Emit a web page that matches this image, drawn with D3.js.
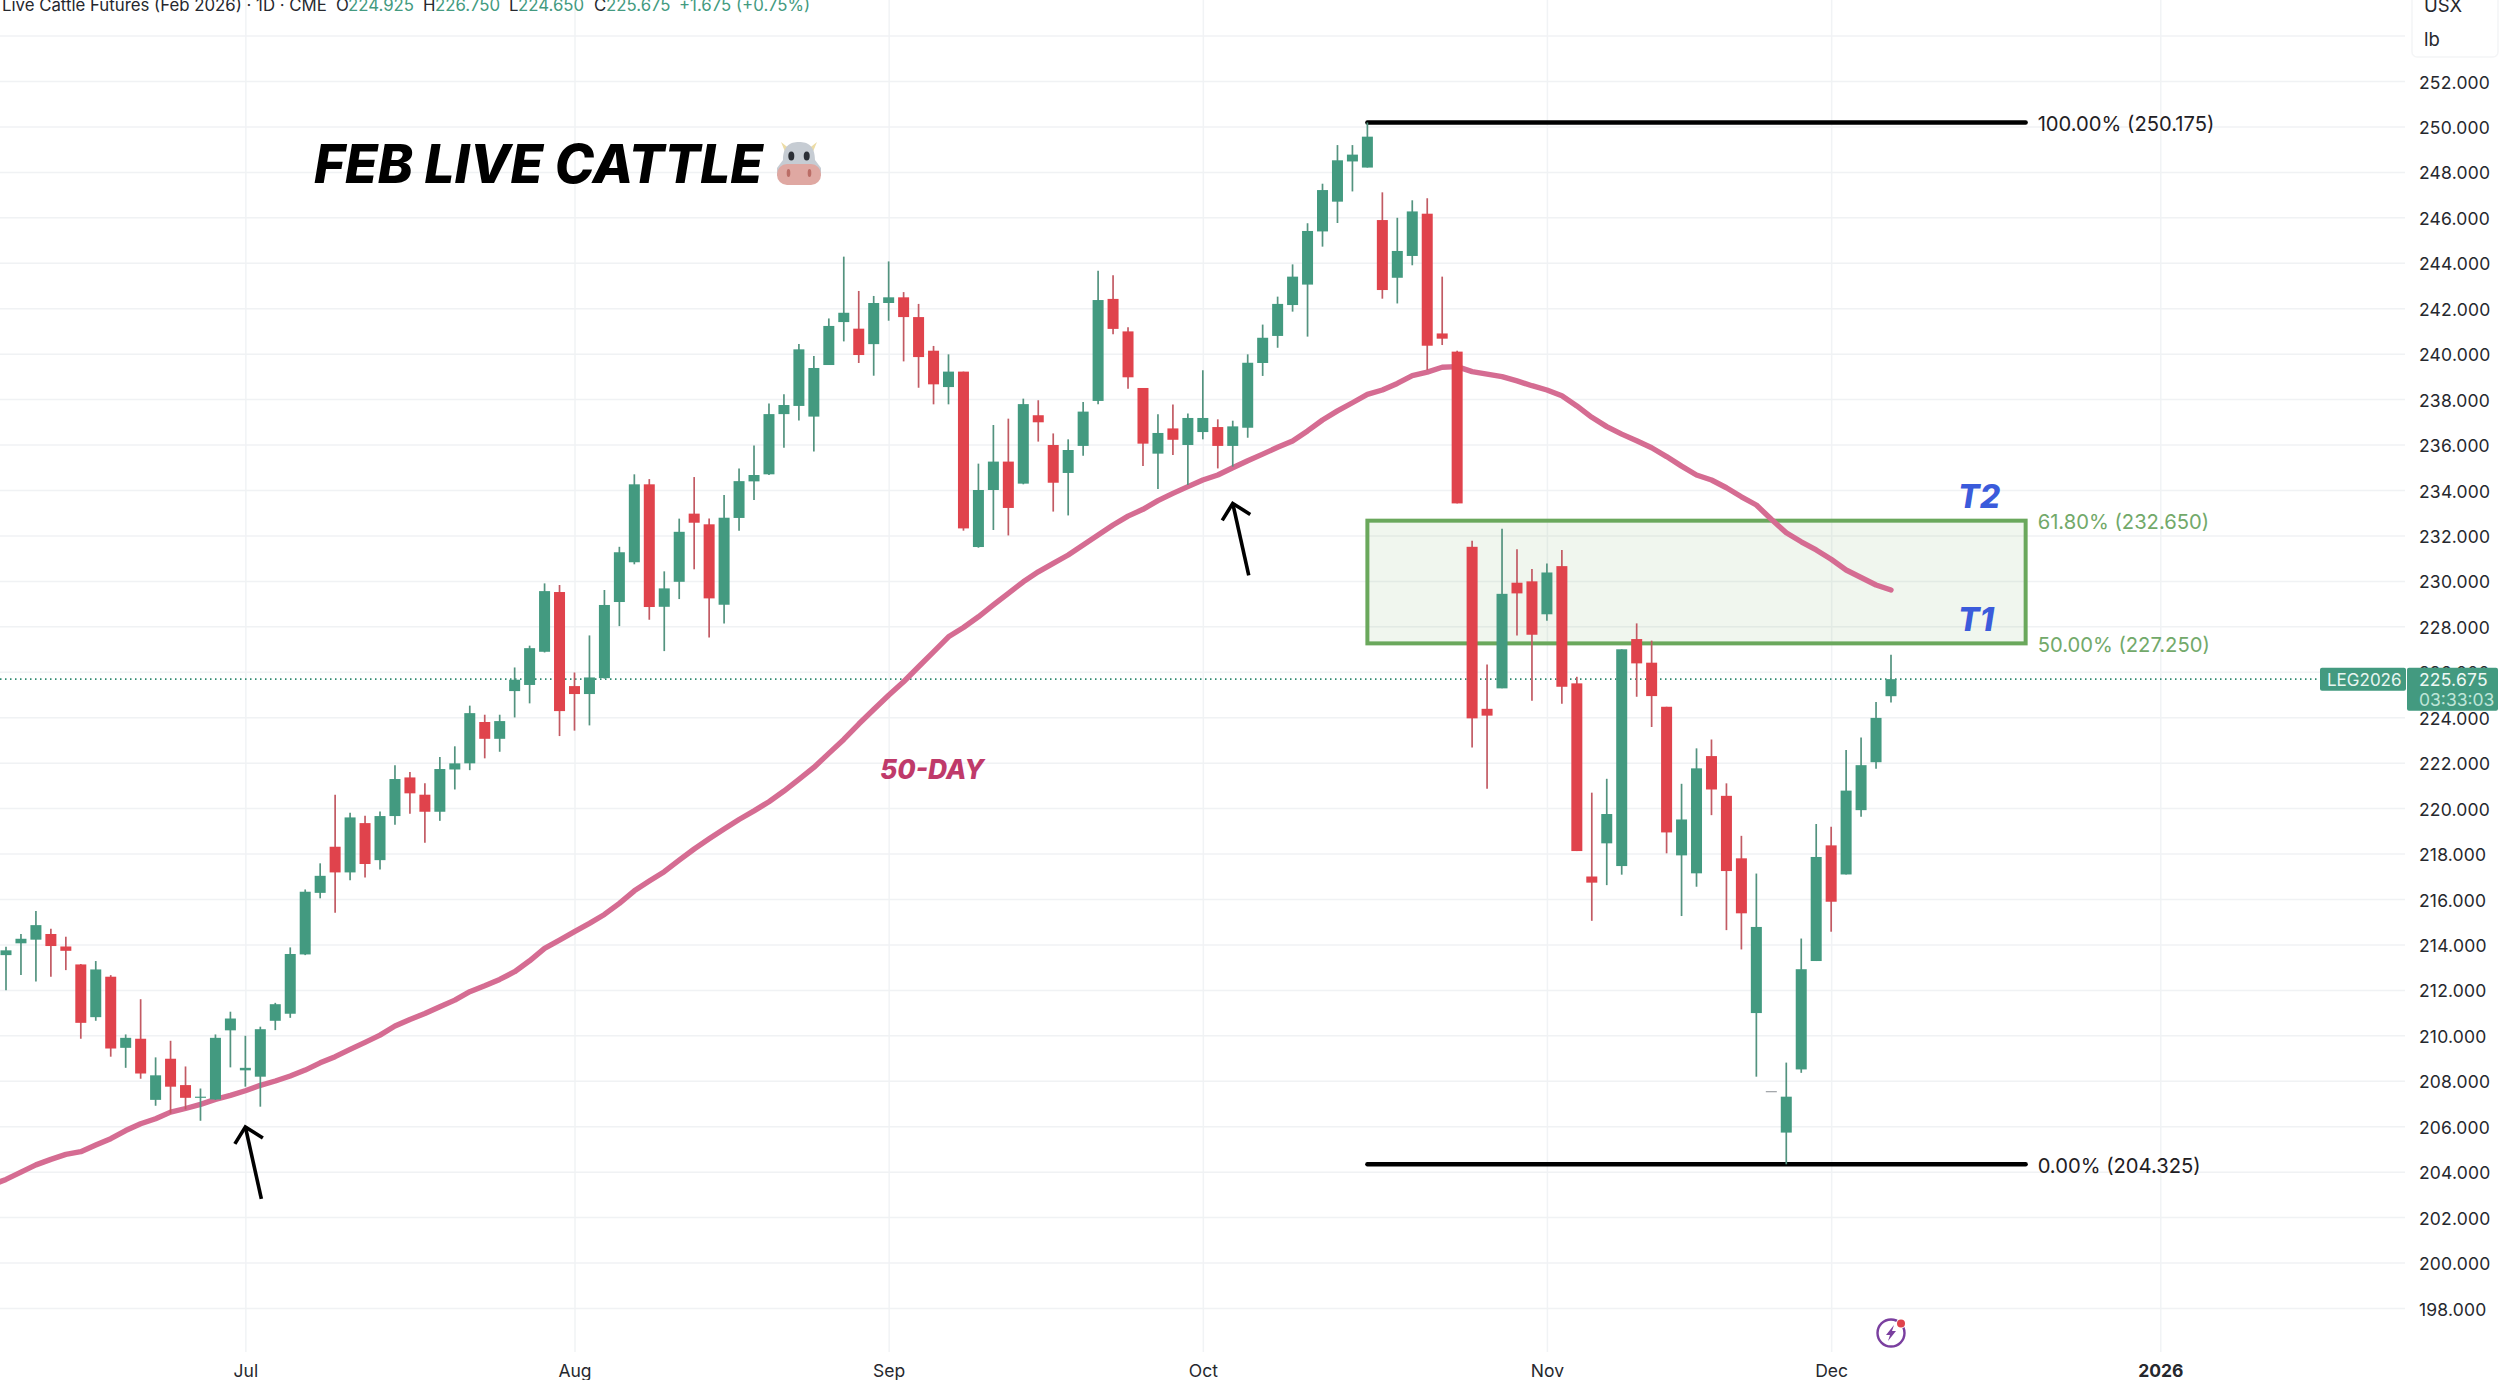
<!DOCTYPE html>
<html>
<head>
<meta charset="utf-8">
<title>Feb Live Cattle</title>
<script src="https://cdn.jsdelivr.net/npm/d3@7/dist/d3.min.js"></script>
<style>
	html, body { margin: 0; padding: 0; background: #fff; }
	svg { display: block; font-family: Inter, "Noto Sans", sans-serif; }
</style>
</head>
<body>
<svg id="chart" width="2500" height="1380"></svg>
<script>
// daily bars, oldest first
const opens = [213.53,214.05,214.21,214.46,213.91,213.12,210.80,212.58,209.45,209.85,
	207.16,208.97,207.81,207.25,207.18,210.22,208.46,208.18,210.64,210.95,
	213.56,216.27,218.30,217.17,219.34,217.71,219.65,221.35,220.59,219.84,
	221.70,221.97,223.79,223.05,225.15,225.42,226.88,229.51,225.37,225.02,
	225.72,229.07,230.82,234.25,228.86,229.96,232.96,232.49,228.95,232.77,
	234.38,234.69,237.34,237.70,237.23,239.50,241.39,241.10,240.42,242.23,
	242.48,241.61,240.13,238.53,239.21,231.49,234.00,235.25,234.28,237.29,
	235.98,234.75,235.94,237.92,242.41,240.98,238.49,235.60,236.71,235.98,
	236.55,236.77,235.94,236.74,239.59,240.78,242.14,243.04,245.38,246.69,
	248.46,248.19,245.88,243.34,244.30,246.16,240.89,240.09,231.50,224.37,
	225.27,229.92,229.98,228.53,230.65,225.49,216.99,218.45,217.45,227.44,
	226.40,224.46,217.92,217.13,222.29,220.54,217.79,210.98,207.54,205.72,
	208.50,213.27,218.36,217.08,219.91,222.02,224.925];
const highs = [213.90,214.46,215.47,214.69,214.34,213.14,213.27,212.65,210.04,211.59,
	209.03,209.76,208.63,207.66,210.04,211.04,209.98,210.38,211.43,213.87,
	216.42,217.57,220.59,219.80,219.66,219.85,221.89,221.59,221.09,222.25,
	222.72,224.51,224.11,224.11,226.19,227.15,229.89,229.82,225.97,227.60,
	229.60,231.50,234.69,234.48,230.42,232.74,234.57,232.75,233.78,234.95,
	235.96,237.81,238.21,240.42,239.90,241.55,244.27,242.76,242.54,244.06,
	242.71,242.19,240.34,239.97,239.21,235.16,236.86,237.14,238.02,237.95,
	236.49,236.23,237.87,243.65,243.45,241.16,238.49,237.33,237.76,237.37,
	239.27,237.11,237.05,239.97,241.28,242.51,243.93,245.74,247.48,249.18,
	249.18,250.175,247.10,245.98,246.75,246.84,243.39,240.13,231.77,226.32,
	232.30,231.39,230.52,230.77,231.36,225.78,220.68,221.29,226.99,228.13,
	227.37,224.46,221.07,222.63,223.02,221.09,218.78,217.12,207.54,208.80,
	214.26,219.30,219.18,222.56,223.11,224.67,226.75];
const lows = [211.98,212.65,212.37,212.58,212.87,209.85,210.64,209.06,208.57,208.09,
	206.90,206.56,206.74,206.24,207.16,208.59,207.74,206.86,210.23,210.77,
	213.53,216.03,215.39,216.83,216.95,217.30,219.27,219.75,218.48,219.44,
	220.82,221.67,222.19,222.48,223.99,224.61,226.85,223.17,223.41,223.64,
	225.70,228.01,230.73,228.29,226.91,229.20,230.51,227.51,228.13,232.21,
	233.56,234.66,235.86,237.06,235.69,239.50,240.54,239.59,239.03,241.45,
	239.66,238.50,237.77,237.77,232.21,231.46,232.24,232.00,234.25,236.13,
	233.05,232.88,235.51,237.77,240.85,238.46,235.06,234.04,235.54,234.22,
	236.23,234.95,235.03,236.30,239.02,240.26,241.85,240.75,244.71,245.75,
	247.14,248.19,242.42,242.21,243.89,239.28,240.38,233.41,222.67,220.85,
	225.27,227.60,224.73,228.25,224.59,218.11,215.04,216.61,217.07,224.90,
	223.57,218.01,215.25,216.54,219.69,214.63,213.78,208.18,207.54,204.325,
	208.35,213.27,214.56,217.08,219.62,221.73,224.65];
const closes = [213.74,214.25,214.85,213.93,213.72,210.55,212.90,209.42,209.89,208.32,
	208.24,207.74,207.25,207.30,209.89,210.74,208.57,210.27,211.37,213.58,
	216.32,217.02,217.17,219.59,217.54,219.65,221.28,220.65,219.84,221.72,
	221.97,224.18,223.05,223.83,225.65,227.04,229.55,224.27,225.02,225.75,
	228.94,231.26,234.25,228.85,229.67,232.16,232.56,229.23,232.78,234.39,
	234.66,237.34,237.74,240.19,239.37,241.22,241.80,239.94,242.23,242.48,
	241.61,239.85,238.65,239.21,232.31,234.00,235.25,233.21,237.78,236.98,
	234.32,235.76,237.45,242.36,241.09,238.96,236.04,236.51,236.21,237.17,
	237.17,235.94,236.80,239.60,240.70,242.19,243.39,245.40,247.20,248.51,
	248.76,249.55,242.80,244.52,246.26,240.35,240.66,233.41,223.95,224.07,
	229.43,229.45,227.63,230.37,225.34,218.11,216.72,219.74,226.99,226.37,
	224.93,218.93,219.50,221.75,220.82,217.23,215.37,214.77,207.54,207.30,
	212.91,217.85,215.88,220.77,221.89,223.97,225.675];

// 50 day average, first value belongs to the bar just off the left edge
const ma50 = [203.40,203.66,203.98,204.30,204.54,204.76,204.88,205.17,205.45,205.81,206.11,
	206.33,206.62,206.78,206.96,207.18,207.36,207.56,207.80,207.99,208.21,
	208.47,208.79,209.06,209.38,209.69,210.01,210.41,210.70,210.96,211.26,
	211.55,211.92,212.18,212.46,212.80,213.28,213.83,214.19,214.56,214.93,
	215.32,215.81,216.36,216.79,217.20,217.71,218.20,218.65,219.08,219.50,
	219.88,220.28,220.75,221.26,221.79,222.41,223.02,223.70,224.34,224.97,
	225.56,226.22,226.88,227.54,227.95,228.42,228.94,229.45,229.96,230.40,
	230.77,231.14,231.58,232.02,232.46,232.85,233.15,233.53,233.85,234.15,
	234.44,234.66,234.98,235.29,235.58,235.88,236.16,236.60,237.08,237.48,
	237.84,238.21,238.40,238.69,239.03,239.19,239.40,239.43,239.21,239.10,
	238.99,238.80,238.59,238.40,238.15,237.70,237.20,236.79,236.46,236.17,
	235.86,235.47,235.05,234.66,234.44,234.10,233.70,233.34,232.71,232.12,
	231.72,231.36,230.95,230.48,230.15,229.82,229.60];

const priceTicks = d3.range(198, 253, 2);
const gridPrices = d3.range(198, 255, 2);
const monthBars = [16, 38, 59, 80, 103, 122, 144];
const monthLabels = ["Jul", "Aug", "Sep", "Oct", "Nov", "Dec", "2026"];

// fib levels
const fibPct = ["100.00%", "61.80%", "50.00%", "0.00%"];
const fibPrice = [250.175, 232.650, 227.250, 204.325];
const fibFromBar = 91, fibToBar = 135;
const lastPrice = 225.675;

// bar numbers stand in for trading days
const x = d3.scaleLinear().domain([0, 126]).range([6, 1891]);
const y = d3.scaleLinear().domain([252, 198]).range([81, 1308]);

const svg = d3.select("#chart");
const GREEN = "#439a80", RED = "#e0434c";

// grid
svg.append("g").call(d3.axisBottom(x).tickValues(monthBars).tickSize(1352).tickFormat(""))
	.call(g => g.select(".domain").remove())
	.selectAll("line").attr("stroke", "#f1f3f5").attr("stroke-width", 1.5);
svg.append("g").call(d3.axisRight(y).tickValues(gridPrices).tickSize(2405).tickFormat(""))
	.call(g => g.select(".domain").remove())
	.selectAll("line").attr("stroke", "#f0f2f4").attr("stroke-width", 1.5);

// fib zone and levels
const fibLeft = x(fibFromBar), fibRight = x(fibToBar);
svg.append("rect")
	.attr("x", fibLeft).attr("y", y(fibPrice[1]))
	.attr("width", fibRight - fibLeft).attr("height", y(fibPrice[2]) - y(fibPrice[1]))
	.attr("fill", "#6aa85c").attr("fill-opacity", 0.1)
	.attr("stroke", "#6aa85c").attr("stroke-width", 4);
svg.selectAll(".fibLine").data([fibPrice[0], fibPrice[3]]).enter().append("line")
	.attr("class", "fibLine")
	.attr("x1", fibLeft).attr("x2", fibRight)
	.attr("y1", d => y(d)).attr("y2", d => y(d))
	.attr("stroke", "#000").attr("stroke-width", 4.4).attr("stroke-linecap", "round");
svg.selectAll(".fibLabel").data(fibPrice).enter().append("text")
	.attr("class", "fibLabel")
	.attr("x", fibRight + 12).attr("y", d => y(d) + 1.5)
	.attr("dy", "0.36em")
	.attr("font-size", 20.2)
	.attr("fill", (d, i) => (i == 1 || i == 2) ? "#72a96a" : "#1f2024")
	.text((d, i) => fibPct[i] + " (" + d.toFixed(3) + ")");

// last price line
svg.append("line")
	.attr("x1", 0).attr("x2", 2320).attr("y1", y(lastPrice)).attr("y2", y(lastPrice))
	.attr("stroke", "#2f8a70").attr("stroke-width", 1.6).attr("stroke-dasharray", "1.5 3.5");

// moving average
const maLine = d3.line().x((d, i) => x(i - 1)).y(d => y(d));
svg.append("path").datum(ma50)
	.attr("d", maLine).attr("fill", "none")
	.attr("stroke", "#d56c92").attr("stroke-width", 5.4)
	.attr("stroke-linecap", "round").attr("stroke-linejoin", "round");

// candles
const bars = svg.append("g").selectAll("g").data(opens).enter().append("g");
const barColor = (i) => opens[i] == closes[i] ? "#8a8f94" : (closes[i] > opens[i] ? GREEN : RED);
bars.append("line")
	.attr("x1", (d, i) => x(i)).attr("x2", (d, i) => x(i))
	.attr("y1", (d, i) => y(highs[i])).attr("y2", (d, i) => y(lows[i]))
	.attr("stroke", (d, i) => closes[i] >= opens[i] ? "#53937f" : "#c25a63")
	.attr("stroke-width", 1.7);
bars.append("rect")
	.attr("x", (d, i) => x(i) - 5.5).attr("width", 11)
	.attr("y", (d, i) => y(Math.max(opens[i], closes[i])))
	.attr("height", (d, i) => Math.max(1, Math.abs(y(opens[i]) - y(closes[i]))))
	.attr("fill", (d, i) => barColor(i));

// axes
const yAxis = svg.append("g").attr("transform", "translate(2419,1.5)")
	.call(d3.axisRight(y).tickValues(priceTicks).tickSize(0).tickPadding(0).tickFormat(d => d.toFixed(3)));
yAxis.select(".domain").remove();
yAxis.selectAll("text").attr("font-family", "Inter").attr("font-size", 17.5).attr("letter-spacing", 0.2).attr("fill", "#26282e");

const xAxis = svg.append("g").attr("transform", "translate(0,1352)")
	.call(d3.axisBottom(x).tickValues(monthBars).tickSize(0).tickPadding(13).tickFormat((d, i) => monthLabels[i]));
xAxis.select(".domain").remove();
xAxis.selectAll("text").attr("font-family", "Inter").attr("font-size", 17.5).attr("fill", "#26282e")
	.attr("font-weight", (d, i) => monthLabels[i] == "2026" ? 700 : 400);

// price badges
svg.append("rect").attr("x", 2320).attr("y", y(lastPrice) - 11.5).attr("width", 86).attr("height", 23).attr("rx", 2).attr("fill", GREEN);
svg.append("text").attr("x", 2327).attr("y", y(lastPrice) + 1).attr("dy", "0.36em")
	.attr("font-size", 17).attr("fill", "#e8f5f0").text("LEG2026");
svg.append("rect").attr("x", 2407).attr("y", y(lastPrice) - 11.5).attr("width", 91).attr("height", 43).attr("rx", 2).attr("fill", GREEN);
svg.append("text").attr("x", 2419).attr("y", y(lastPrice) + 1).attr("dy", "0.36em")
	.attr("font-size", 17.5).attr("letter-spacing", 0.2).attr("fill", "#eef8f4").text(lastPrice.toFixed(3));
svg.append("text").attr("x", 2419).attr("y", y(lastPrice) + 20.5).attr("dy", "0.36em")
	.attr("font-size", 17.5).attr("fill", "#bfe5d8").text("03:33:03");

// unit box, top right
svg.append("rect").attr("x", 2412).attr("y", -8).attr("width", 86).attr("height", 65).attr("rx", 5)
	.attr("fill", "#fff").attr("stroke", "#f4f5f6").attr("stroke-width", 1.5);
svg.append("text").attr("x", 2424).attr("y", 12).attr("font-size", 18.5).attr("fill", "#26282e").text("USX");
svg.append("text").attr("x", 2424).attr("y", 46).attr("font-size", 18.5).attr("fill", "#26282e").text("lb");

// header line, cut by the top edge
const headItems = [
	[2, "Live Cattle Futures (Feb 2026) · 1D · CME", "#26282e"],
	[336, "O", "#26282e"], [348, "224.925", GREEN],
	[423, "H", "#26282e"], [435, "226.750", GREEN],
	[509, "L", "#26282e"], [518, "224.650", GREEN],
	[594, "C", "#26282e"], [606, "225.675", GREEN],
	[679, "+1.675 (+0.75%)", GREEN]
];
svg.selectAll(".head").data(headItems).enter().append("text")
	.attr("class", "head")
	.attr("x", d => d[0]).attr("y", 11)
	.attr("font-size", 16.8).attr("fill", d => d[2])
	.text(d => d[1]);

// title
svg.append("text").attr("x", 314).attr("y", 183)
	.attr("font-size", 53).attr("font-weight", 800).attr("font-style", "italic")
	.attr("fill", "#000").text("FEB LIVE CATTLE");

// cow drawn by hand, no emoji font here
const cow = svg.append("g").attr("transform", "translate(799,162)");
cow.append("path").attr("d", "M-18,-20 L-13,-8 L-8,-12 Z").attr("fill", "#ecdca6");
cow.append("path").attr("d", "M18,-20 L13,-8 L8,-12 Z").attr("fill", "#ecdca6");
cow.append("path").attr("d", "M-16,-2 C-16,-16 -9,-20 0,-20 C9,-20 16,-16 16,-2 L22,6 L22,14 L-22,14 L-22,6 Z").attr("fill", "#c6ccd3");
cow.append("rect").attr("x", -22).attr("y", 2).attr("width", 44).attr("height", 21).attr("rx", 10).attr("fill", "#dfa8a2");
[-14, 14].forEach(d => {
	cow.append("ellipse").attr("cx", d * 0.55).attr("cy", -6).attr("rx", 3).attr("ry", 4.5).attr("fill", "#2b2f36");
	cow.append("ellipse").attr("cx", d * 0.75).attr("cy", 11).attr("rx", 1.8).attr("ry", 4).attr("fill", "#bb6d66");
});

// annotations
const annotations = [["T2", 1958, 508, "#3b5bdb"], ["T1", 1958, 631, "#3b5bdb"]];
svg.selectAll(".tag").data(annotations).enter().append("text")
	.attr("class", "tag")
	.attr("x", d => d[1]).attr("y", d => d[2])
	.attr("font-size", 32).attr("font-weight", 800).attr("font-style", "italic")
	.attr("fill", d => d[3]).text(d => d[0]);
svg.append("text").attr("x", 880).attr("y", 779)
	.attr("font-size", 26.5).attr("font-weight", 800).attr("font-style", "italic")
	.attr("fill", "#bf3a6a").text("50-DAY");

// arrows pointing at the average
const arrowTips = [[16, 205.97], [82, 233.41]];
arrowTips.forEach(t => {
	const a = svg.append("g").attr("transform", "translate(" + x(t[0]) + "," + y(t[1]) + ")")
		.attr("fill", "none").attr("stroke", "#000").attr("stroke-width", 3.6);
	a.append("path").attr("d", "M16,72 L0,0");
	a.append("path").attr("d", "M-10.5,17 L0,0 L17.5,11");
});

// lightning icon at the last bar
const bolt = svg.append("g").attr("transform", "translate(" + x(126) + ",1333)");
bolt.append("circle").attr("r", 13.5).attr("fill", "none").attr("stroke", "#7a3f9f").attr("stroke-width", 2.4);
bolt.append("path").attr("d", "M3,-8 L-5,2 L-1,2 L-3,8 L5,-2 L1,-2 Z").attr("fill", "#7a3f9f");
bolt.append("circle").attr("cx", 10).attr("cy", -9.5).attr("r", 5).attr("fill", "#fff");
bolt.append("circle").attr("cx", 10).attr("cy", -9.5).attr("r", 4).attr("fill", "#e0434c");
</script>
</body>
</html>
